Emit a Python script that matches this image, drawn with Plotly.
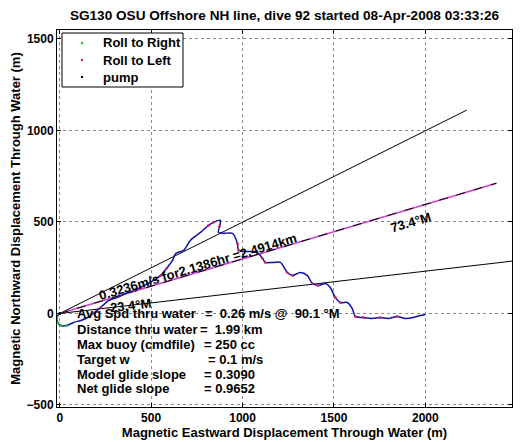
import plotly.graph_objects as go

# ---- data ----
track_x = [0, -16, -11, 5, 38, 76, 115, 153, 197, 224, 268, 317, 360, 404, 442, 481, 513, 552, 584, 617,
           634, 677, 715, 770, 814, 841, 879, 874, 868, 896, 945, 972, 978, 1016, 1081, 1109, 1125, 1169,
           1207, 1245, 1273, 1316, 1354, 1382, 1415, 1453, 1480, 1507, 1535, 1573, 1600, 1617, 1660, 1709,
           1753, 1797, 1846, 1890, 1933, 1972, 1999]
track_y = [0, -22, -49, -66, -66, -49, -38, -22, 11, 33, 71, 88, 109, 126, 142, 164, 181, 208, 246, 290,
           328, 345, 400, 443, 482, 498, 509, 476, 443, 438, 438, 383, 345, 339, 334, 301, 279, 279,
           279, 224, 208, 224, 208, 164, 153, 164, 142, 88, 60, 60, 27, -16, -22, -27,
           -22, -27, -16, -27, -22, -11, -5]

roll_right_x = [0, -16, -11, 5, 38]
roll_right_y = [0, -22, -49, -66, -66]
roll_left_x = [197, 224, 404, 442, 552, 584, 814, 841, 874, 972, 978, 1109, 1125, 1245, 1273, 1382, 1415,
               1507, 1535, 1617, 1660, 1753, 1846]
roll_left_y = [11, 33, 126, 142, 208, 246, 482, 498, 476, 383, 345, 301, 279, 224, 208, 164, 153,
               88, 60, -16, -22, -22, -16]
pump_x = [0]
pump_y = [0]

# heading lines from origin (end points)
upper_line_x = [0, 2226]
upper_line_y = [0, 1111]
mid_line_x = [0, 2389]
mid_line_y = [0, 712]
lower_line_x = [0, 2474]
lower_line_y = [0, 286]

x_ticks = [0, 500, 1000, 1500, 2000]
y_ticks = [-500, 0, 500, 1000, 1500]

legend_names = ["Roll to Right", "Roll to Left", "pump"]
legend_colors = ["#20c020", "#e02020", "black"]

info_labels = ["Avg Spd thru water", "Distance thru water", "Max buoy (cmdfile)", "Target w",
               "Model glide slope", "Net glide slope"]
info_values = ["=  0.26 m/s @  90.1 °M", "=  1.99 km", "= 250 cc", "= 0.1 m/s", "= 0.3090", "= 0.9652"]
info_y = [0, -88, -170, -252, -334, -411]
info_value_x = [785, 758, 780, 802, 780, 780]

title = "SG130 OSU Offshore NH line, dive 92 started 08-Apr-2008 03:33:26"
FONT = "Liberation Sans, Arial, Helvetica, sans-serif"

# page body has an 8px default margin; figure is sized to fill the rest of the window
OFF = 8
W, H = 522 - OFF, 442 - OFF
PL, PT, PW, PH = 57, 30, 455, 377   # plot area in window pixels


def px_x(px):
    return (px - PL) / PW


def px_y(py):
    return (PT + PH - py) / PH


fig = go.Figure()

fig.add_trace(go.Scatter(x=upper_line_x, y=upper_line_y, mode="lines",
                         line=dict(color="black", width=1), showlegend=False, hoverinfo="skip"))
fig.add_trace(go.Scatter(x=lower_line_x, y=lower_line_y, mode="lines",
                         line=dict(color="black", width=1), showlegend=False, hoverinfo="skip"))
fig.add_trace(go.Scatter(x=mid_line_x, y=mid_line_y, mode="lines",
                         line=dict(color="#d040d0", width=1.6), showlegend=False, hoverinfo="skip"))
fig.add_trace(go.Scatter(x=mid_line_x, y=mid_line_y, mode="lines",
                         line=dict(color="black", width=1, dash="dash"), showlegend=False, hoverinfo="skip"))

fig.add_trace(go.Scatter(x=track_x, y=track_y, mode="lines",
                         line=dict(color="#1010a8", width=1.5, shape="spline", smoothing=0.8),
                         showlegend=False))

fig.add_trace(go.Scatter(x=roll_right_x, y=roll_right_y, mode="markers", name=legend_names[0],
                         marker=dict(color=legend_colors[0], size=3), showlegend=False))
fig.add_trace(go.Scatter(x=roll_left_x, y=roll_left_y, mode="markers", name=legend_names[1],
                         marker=dict(color="#e02060", size=3, opacity=0.8), showlegend=False))
fig.add_trace(go.Scatter(x=pump_x, y=pump_y, mode="markers", name=legend_names[2],
                         marker=dict(color=legend_colors[2], size=3), showlegend=False))

bold12 = dict(size=12, color="black", family=FONT, weight="bold")
bold13 = dict(size=13, color="black", family=FONT, weight="bold")
annotations = [
    dict(x=759, y=257, text="0.3236m/s for2.1386hr =2.4914km", textangle=-16.5, showarrow=False, font=bold13),
    dict(x=1917, y=498, text="73.4°M", textangle=-16.5, showarrow=False, font=bold13),
    dict(x=388, y=44, text="23.4°M", textangle=-6.6, showarrow=False, font=bold13),
]
for lab, val, yy, vx in zip(info_labels, info_values, info_y, info_value_x):
    annotations.append(dict(x=82, y=yy, text=lab, xanchor="left", showarrow=False, font=bold13))
    annotations.append(dict(x=vx, y=yy, text=val.replace(" ", "\u00a0"), xanchor="left",
                            showarrow=False, font=bold13))

# hand-drawn legend box (to match the compact MATLAB legend)
shapes = [dict(type="rect", xref="paper", yref="paper", x0=px_x(62), x1=px_x(183), y0=px_y(87), y1=px_y(33),
               line=dict(color="black", width=1), fillcolor="white", layer="above")]
legend_rows = [43, 60, 77]
for name, col, row in zip(legend_names, legend_colors, legend_rows):
    shapes.append(dict(type="circle", xref="paper", yref="paper", xsizemode="pixel", ysizemode="pixel",
                       xanchor=px_x(82), yanchor=px_y(row), x0=-1.2, x1=1.2, y0=-1.2, y1=1.2,
                       fillcolor=col, line=dict(color=col, width=0), layer="above"))
    annotations.append(dict(xref="paper", yref="paper", x=px_x(101), y=px_y(row), text=name,
                            xanchor="left", yanchor="middle", showarrow=False, font=bold13))

axis_common = dict(showline=True, linecolor="black", linewidth=1, mirror="ticks", ticks="inside", ticklen=4,
                   tickcolor="black", showgrid=True, gridcolor="#8a8a8a", griddash="dot", gridwidth=1,
                   zeroline=False, automargin=False, tickfont=bold12)

fig.update_layout(
    width=W, height=H,
    margin=dict(l=PL - OFF, r=522 - PL - PW, t=PT - OFF, b=442 - PT - PH),
    paper_bgcolor="white", plot_bgcolor="white",
    title=dict(text=title, x=(284.5 - OFF) / W, xanchor="center", y=1 - (15 - OFF) / H,
               yanchor="middle", font=dict(size=13.6, color="black", family=FONT, weight="bold")),
    xaxis=dict(range=[-15, 2474], tickvals=x_ticks, ticktext=[str(v) for v in x_ticks],
               title=dict(text="Magnetic Eastward Displacement Through Water (m)", standoff=0, font=bold13),
               **axis_common),
    yaxis=dict(range=[-511, 1549], tickvals=y_ticks, ticktext=["\u2212500", "0", "500", "1000", "1500"],
               title=dict(text="Magnetic Northward Displacement Through Water (m)", standoff=4, font=bold13),
               **axis_common),
    annotations=annotations,
    shapes=shapes,
    showlegend=False,
)

fig.write_html("out.html")
